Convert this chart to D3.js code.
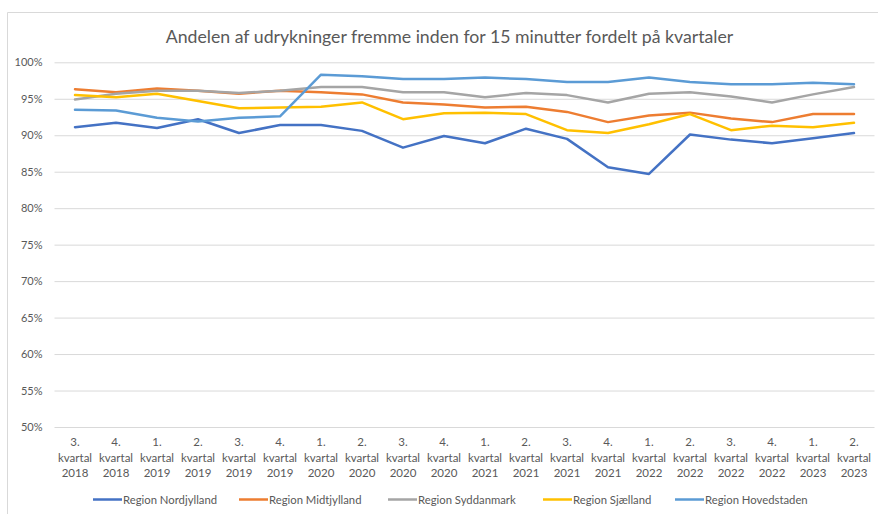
<!DOCTYPE html>
<html>
<head>
<meta charset="utf-8">
<script src="https://cdn.jsdelivr.net/npm/d3@7"></script>
<style>
html,body{margin:0;padding:0;background:#fff;}
svg{display:block;font-family:Lato,"Open Sans",sans-serif;}
</style>
</head>
<body>
<svg id="chart" width="878" height="514"></svg>
<script>
const title = "Andelen af udrykninger fremme inden for 15 minutter fordelt på kvartaler";
const categories = [
  ["3.","kvartal","2018"],["4.","kvartal","2018"],
  ["1.","kvartal","2019"],["2.","kvartal","2019"],["3.","kvartal","2019"],["4.","kvartal","2019"],
  ["1.","kvartal","2020"],["2.","kvartal","2020"],["3.","kvartal","2020"],["4.","kvartal","2020"],
  ["1.","kvartal","2021"],["2.","kvartal","2021"],["3.","kvartal","2021"],["4.","kvartal","2021"],
  ["1.","kvartal","2022"],["2.","kvartal","2022"],["3.","kvartal","2022"],["4.","kvartal","2022"],
  ["1.","kvartal","2023"],["2.","kvartal","2023"]
];
const seriesNames = ["Region Nordjylland","Region Midtjylland","Region Syddanmark","Region Sjælland","Region Hovedstaden"];
const seriesColors = ["#4472C4","#ED7D31","#A5A5A5","#FFC000","#5B9BD5"];
const nordjylland = [91.1,91.7,91.0,92.2,90.3,91.4,91.4,90.6,88.3,89.9,88.9,90.9,89.5,85.6,84.7,90.1,89.4,88.9,89.6,90.3];
const midtjylland = [96.3,95.9,96.4,96.1,95.7,96.1,95.9,95.6,94.5,94.2,93.8,93.9,93.2,91.8,92.7,93.1,92.3,91.8,92.9,92.9];
const syddanmark  = [94.9,95.7,96.1,96.1,95.8,96.1,96.6,96.6,95.9,95.9,95.2,95.8,95.5,94.5,95.7,95.9,95.3,94.5,95.6,96.6];
const sjaelland   = [95.5,95.2,95.7,94.7,93.7,93.8,93.9,94.5,92.2,93.0,93.1,92.9,90.7,90.3,91.5,92.9,90.7,91.3,91.1,91.7];
const hovedstaden = [93.5,93.4,92.4,91.9,92.4,92.6,98.3,98.1,97.7,97.7,97.9,97.7,97.3,97.3,97.9,97.3,97.0,97.0,97.2,97.0];
const yTicks = [50,55,60,65,70,75,80,85,90,95,100];

const seriesValues = [nordjylland, midtjylland, syddanmark, sjaelland, hovedstaden];

(function(){
const svg = d3.select("#chart");
const textColor = "#595959";

// outer border
svg.append("path").attr("d","M7.5,514 V12.5 H878").attr("fill","none").attr("stroke","#d9d9d9").attr("stroke-width",1);

// title
svg.append("text").attr("x",449.5).attr("y",43).attr("text-anchor","middle")
  .attr("font-size",17.7).attr("fill",textColor).text(title);

const pLeft = 54.5, pRight = 874.5, pTop = 62.3, pBottom = 427;
const x = d3.scaleBand().domain(d3.range(categories.length)).range([pLeft,pRight]);
const y = d3.scaleLinear().domain([50,100]).range([pBottom,pTop]);

// gridlines
const yAxis = d3.axisLeft(y).tickValues(yTicks).tickSize(-(pRight-pLeft)).tickFormat(d => d + "%");
const gy = svg.append("g").attr("transform",`translate(${pLeft},0)`).call(yAxis);
gy.select(".domain").remove();
gy.selectAll(".tick line").attr("stroke","#d9d9d9").attr("stroke-width",1);
gy.selectAll(".tick text").attr("fill",textColor).attr("font-size",11).attr("x",-12)
  .attr("font-family","Lato,'Open Sans',sans-serif");

// x labels
const xAxis = d3.axisBottom(x).tickSize(0).tickFormat(() => "");
const gx = svg.append("g").attr("transform",`translate(0,${pBottom})`).call(xAxis);
gx.select(".domain").remove();
gx.selectAll(".tick").each(function(d){
  const t = d3.select(this).append("text").attr("fill",textColor).attr("font-size",11.5)
    .attr("text-anchor","middle").attr("font-family","Lato,'Open Sans',sans-serif");
  categories[d].forEach((s,i) => {
    t.append("tspan").attr("x",0).attr("y",19 + i*15.5).text(s);
  });
});

// lines
const line = d3.line().x((d,i) => x(i) + x.bandwidth()/2).y(d => y(d));
seriesValues.forEach((vals,k) => {
  svg.append("path").datum(vals).attr("d",line).attr("fill","none")
    .attr("stroke",seriesColors[k]).attr("stroke-width",2.5)
    .attr("stroke-linejoin","round").attr("stroke-linecap","round");
});

// legend
const legendX = [93,239,388,543,675];
const lg = svg.append("g");
seriesNames.forEach((name,k) => {
  lg.append("line").attr("x1",legendX[k]).attr("x2",legendX[k]+29).attr("y1",499.5).attr("y2",499.5)
    .attr("stroke",seriesColors[k]).attr("stroke-width",2.5);
  lg.append("text").attr("x",legendX[k]+30).attr("y",503.5).attr("font-size",11.3)
    .attr("fill",textColor).text(name);
});
})();
</script>
</body>
</html>
